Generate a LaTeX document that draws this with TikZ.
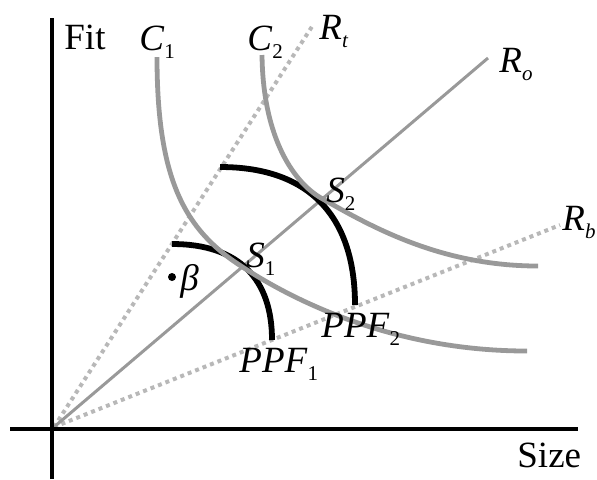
\documentclass[tikz,border=0pt]{standalone}
\usepackage{fontspec}
\setmainfont{Liberation Serif}
\newcommand{\sublabel}[2]{\textit{#1}\raisebox{-0.22em}{\fontsize{10.5}{12}\selectfont#2}}
\tikzset{
  axis/.style={line width=2pt, black},
  raydot/.style={line width=2pt, black!28, dash pattern=on 2pt off 2pt},
  rayline/.style={line width=1.5pt, black!40},
  isoq/.style={line width=2.4pt, black!40},
  ppf/.style={line width=2.9pt, black},
  lab/.style={anchor=base west, inner sep=0pt, font=\fontsize{18.5}{20}\selectfont}
}
\begin{document}
\begin{tikzpicture}[x=0.5pt, y=-0.5pt]
  \useasboundingbox (0,0) rectangle (597,479);
  % Origin and ends of the rays
  \coordinate (O) at (54,427);
  \coordinate (Rtend) at (313,25);
  \coordinate (Roend) at (488,58);
  \coordinate (Rbend) at (560,225);
  % Rays from the origin
  \draw[raydot] (O) -- (Rtend);
  \draw[raydot] (O) -- (Rbend);
  \draw[rayline] (O) -- (Roend);
  % Frontiers PPF_1 and PPF_2
  \coordinate (p1s) at (172,244);
  \coordinate (p1e) at (272,340);
  \coordinate (p2s) at (220,167);
  \coordinate (p2e) at (355,305);
  \draw[ppf] (p1s) .. controls +(68,0) and +(0,-60) .. (p1e);
  \draw[ppf] (p2s) .. controls +(92,0) and +(0,-86) .. (p2e);
  % Curves C_1 and C_2 (through S_1 and S_2)
  \coordinate (c1s) at (157,57);
  \coordinate (S1) at (241,266);
  \coordinate (c1e) at (527,351);
  \coordinate (c2s) at (262,55);
  \coordinate (S2) at (321,198);
  \coordinate (c2e) at (538,266);
  \draw[isoq] (c1s) .. controls (157,180) and (185,230) .. (S1)
    .. controls (300,305) and (400,351) .. (c1e);
  \draw[isoq] (c2s) .. controls (263,140) and (295,183) .. (S2)
    .. controls (370,226) and (440,266) .. (c2e);
  % Axes
  \coordinate (ytop) at (52,18);
  \coordinate (ybot) at (52,479);
  \coordinate (xleft) at (10,429);
  \coordinate (xright) at (578,429);
  \draw[axis] (ybot) -- (ytop);
  \draw[axis] (xleft) -- (xright);
  % Point beta
  \coordinate (b) at (172,277);
  \fill (b) circle (2pt);
  % Labels
  \node[lab] (fit) at (64,49) {Fit};
  \node[lab] (size) at (517,467) {Size};
  \node[lab] (c1) at (139,50) {\sublabel{C}{1}};
  \node[lab] (c2) at (247,50) {\sublabel{C}{2}};
  \node[lab] (rt) at (319,39) {\sublabel{R}{\textit{t}}};
  \node[lab] (ro) at (499,72) {\sublabel{R}{\textit{o}}};
  \node[lab] (rb) at (562,230) {\sublabel{R}{\textit{b}}};
  \node[lab] (s1) at (246,267) {\sublabel{S}{1}};
  \node[lab] (s2) at (326,202) {\sublabel{S}{2}};
  \node[lab] (beta) at (180,290) {\textit{β}};
  \node[lab] (ppf1) at (239,372) {\sublabel{PPF}{1}};
  \node[lab] (ppf2) at (321,337) {\sublabel{PPF}{2}};
\end{tikzpicture}
\end{document}
